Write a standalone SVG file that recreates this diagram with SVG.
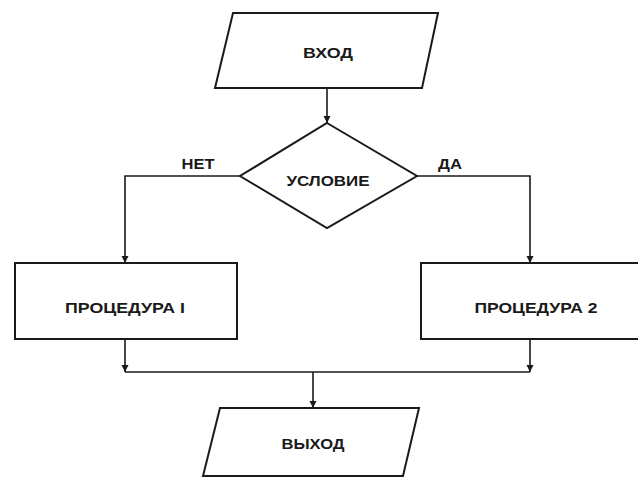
<svg xmlns="http://www.w3.org/2000/svg" width="638" height="486" viewBox="0 0 638 486">
  <style>
    .shape { fill: #ffffff; stroke: #1a1a1a; stroke-width: 2; stroke-linejoin: miter; }
    .wire { fill: none; stroke: #1a1a1a; stroke-width: 1.6; }
    .label { font-family: "Liberation Sans", Arial, sans-serif; font-size: 14px; font-weight: bold; fill: #1a1a1a; text-anchor: middle; }
  </style>
  <defs>
    <marker id="arrow" viewBox="0 0 10 10" refX="10" refY="5" markerWidth="7" markerHeight="8" markerUnits="userSpaceOnUse" orient="auto">
      <path d="M0,0 L10,5 L0,10 Z" fill="#1a1a1a"/>
    </marker>
  </defs>
  <rect width="638" height="486" fill="#ffffff"/>

  <!-- connectors -->
  <g id="connectors">
    <path class="wire" d="M327,88 L327,123" marker-end="url(#arrow)"/>
    <path class="wire" d="M240,176 L125,176 L125,263" marker-end="url(#arrow)"/>
    <path class="wire" d="M417,176 L530,176 L530,263" marker-end="url(#arrow)"/>
    <path class="wire" d="M125,339 L125,372" marker-end="url(#arrow)"/>
    <path class="wire" d="M530,339 L530,372" marker-end="url(#arrow)"/>
    <path class="wire" d="M125,372 L530,372"/>
    <path class="wire" d="M313,372 L313,408" marker-end="url(#arrow)"/>
    <text class="label" x="198" y="169" textLength="33" lengthAdjust="spacingAndGlyphs">НЕТ</text>
    <text class="label" x="450" y="169" textLength="24" lengthAdjust="spacingAndGlyphs">ДА</text>
  </g>

  <!-- input -->
  <g id="input">
    <polygon class="shape" points="233,13 438,13 422,88 215,88"/>
    <text class="label" x="328" y="58" textLength="50" lengthAdjust="spacingAndGlyphs">ВХОД</text>
  </g>

  <!-- decision -->
  <g id="condition">
    <polygon class="shape" points="327,123 417,176 327,228 240,176"/>
    <text class="label" x="328" y="186" textLength="83" lengthAdjust="spacingAndGlyphs">УСЛОВИЕ</text>
  </g>

  <!-- procedure 1 -->
  <g id="procedure1">
    <rect class="shape" x="15" y="263" width="222" height="76"/>
    <text class="label" x="125" y="313" textLength="120" lengthAdjust="spacingAndGlyphs">ПРОЦЕДУРА I</text>
  </g>

  <!-- procedure 2 -->
  <g id="procedure2">
    <rect class="shape" x="421" y="263" width="220" height="76"/>
    <text class="label" x="536" y="313" textLength="123" lengthAdjust="spacingAndGlyphs">ПРОЦЕДУРА 2</text>
  </g>

  <!-- output -->
  <g id="output">
    <polygon class="shape" points="220,408 419,408 403,476 203,476"/>
    <text class="label" x="313" y="449" textLength="63" lengthAdjust="spacingAndGlyphs">ВЫХОД</text>
  </g>
</svg>
